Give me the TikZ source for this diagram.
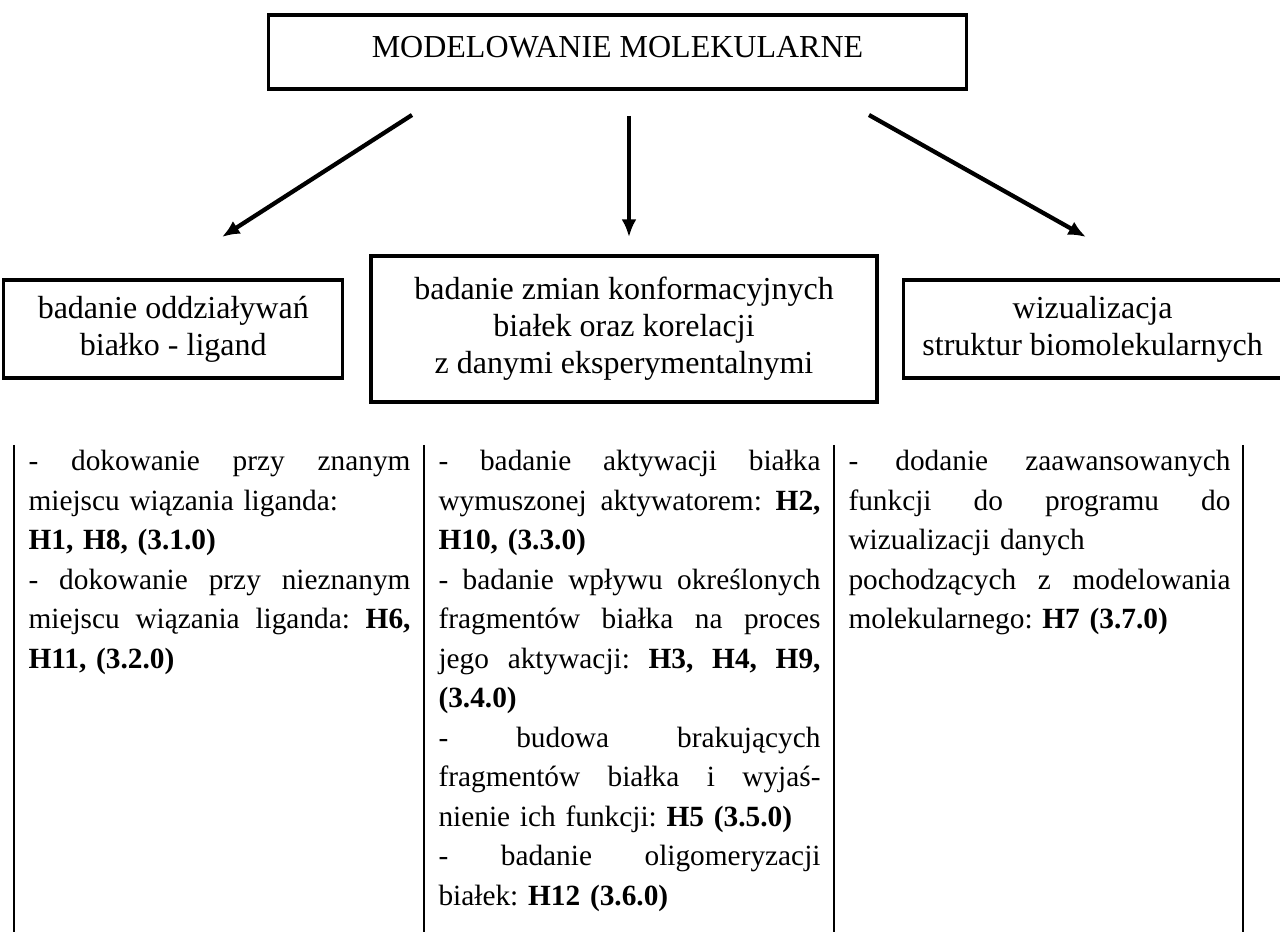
\documentclass[tikz,border=0pt]{standalone}
\usepackage{fontspec}
\setmainfont{Liberation Serif}
\usetikzlibrary{arrows.meta,positioning}
\frenchspacing

% one justified line of a table cell
\newcommand{\jline}[1]{\hbox to\hsize{\spaceskip=0.25em plus 1fil\xspaceskip=\spaceskip #1}}

\begin{document}
\begin{tikzpicture}[x=0.375pt,y=-0.375pt,>={Latex[length=6.6pt,width=5.6pt]},
    box/.style={draw,line width=1.2pt,inner sep=0pt,align=center,
      font=\fontsize{12}{13.9}\selectfont},
    link/.style={->,line width=1.6pt},
    rule/.style={line width=0.75pt},
    cell/.style={anchor=base west,inner sep=0pt,text width=143.25pt,
      font=\fontsize{11}{14.8}\selectfont}]

  \useasboundingbox (0,0) rectangle (1280,932);

  % boxes
  \node[box,minimum width=262pt,minimum height=27.75pt,text depth=3.75pt] (model) at (617.5,52) {MODELOWANIE MOLEKULARNE};
  \node[box,minimum width=189.75pt,minimum height=54.75pt] (conf) at (624,329) {badanie zmian konformacyjnych\\ białek oraz korelacji\\ z danymi eksperymentalnymi};
  \node[box,minimum width=127.1pt,minimum height=36.75pt] (ligand) [left=9.4pt of conf] {badanie oddziaływań\\ białko - ligand};
  \node[box,minimum width=142.1pt,minimum height=36.75pt] (visual) [right=8.6pt of conf] {wizualizacja\\ struktur biomolekularnych};

  % arrows
  \coordinate (ligand in)  at (222,237);
  \coordinate (ligand out) at (412,115);
  \coordinate (conf in)    at (629,237);
  \coordinate (conf out)   at (629,116);
  \coordinate (visual in)  at (1086,237);
  \coordinate (visual out) at (869,115);
  \draw[link] (ligand out) -- (ligand in);
  \draw[link] (conf out) -- (conf in);
  \draw[link] (visual out) -- (visual in);

  % table
  \foreach \x in {14,424,834,1243}
    \draw[rule] (\x,445) -- (\x,932);

  \node[cell] (dock) at (28,471) {%
    \jline{- dokowanie przy znanym}
    miejscu wiązania liganda:\par
    \textbf{H1, H8, (3.1.0)}\par
    \jline{- dokowanie przy nieznanym}
    \jline{miejscu wiązania liganda: \textbf{H6,}}
    \textbf{H11, (3.2.0)}};
  \node[cell] (activ) at (438,471) {%
    \jline{- badanie aktywacji białka}
    \jline{wymuszonej aktywatorem: \textbf{H2,}}
    \textbf{H10, (3.3.0)}\par
    \jline{- badanie wpływu określonych}
    \jline{fragmentów białka na proces}
    \jline{jego aktywacji: \textbf{H3, H4, H9,}}
    \textbf{(3.4.0)}\par
    \jline{- budowa brakujących}
    \jline{fragmentów białka i wyjaś-}
    nienie ich funkcji: \textbf{H5 (3.5.0)}\par
    \jline{- badanie oligomeryzacji}
    białek: \textbf{H12 (3.6.0)}};
  \node[cell] (prog) at (848,471) {%
    \jline{- dodanie zaawansowanych}
    \jline{funkcji do programu do}
    wizualizacji danych\par
    \jline{pochodzących z modelowania}
    molekularnego: \textbf{H7 (3.7.0)}};
\end{tikzpicture}
\end{document}
